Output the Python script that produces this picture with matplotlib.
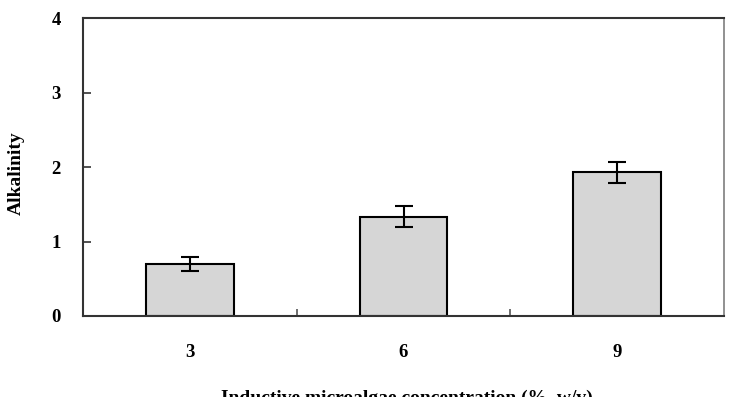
import matplotlib
matplotlib.use("Agg")
import matplotlib.pyplot as plt
import numpy as np

categories = ["3", "6", "9"]
alkalinity = [0.70, 1.33, 1.93]
errors = [0.09, 0.14, 0.14]
yticks = [0, 1, 2, 3, 4]
xlabel = "Inductive microalgae concentration (%, w/v)"
ylabel = "Alkalinity"

plt.rcParams["font.family"] = ["Liberation Serif", "DejaVu Serif"]
plt.rcParams["font.weight"] = "bold"

fig = plt.figure(figsize=(7.29, 3.97), dpi=100)
ax = fig.add_axes([83/729, (397-316)/397, (724-83)/729, (316-18)/397])

x = np.arange(len(categories))
ax.bar(x, alkalinity, width=0.41, color="#d6d6d6", edgecolor="black", linewidth=1.5, zorder=2)
ax.errorbar(x, alkalinity, yerr=errors, fmt="none", ecolor="black", elinewidth=1.5,
            capsize=6.5, capthick=1.5, zorder=3)

ax.set_xlim(-0.5, len(categories) - 0.5)
ax.set_ylim(0, 4)
ax.set_yticks(yticks)
ax.set_yticklabels([str(t) for t in yticks], fontsize=13.5, fontweight="bold")
ax.set_xticks(x)
ax.set_xticklabels(categories, fontsize=13.5, fontweight="bold")
ax.set_xticks(x[:-1] + 0.5, minor=True)
ax.tick_params(axis="x", which="major", length=0, pad=20)
ax.tick_params(axis="x", which="minor", direction="in", length=5, width=1.2, color="#555555")
ax.tick_params(axis="y", direction="in", length=6, width=1.2, color="#333333", pad=16)

for side in ["left", "top", "bottom"]:
    ax.spines[side].set_color("#333333")
    ax.spines[side].set_linewidth(1.5)
ax.spines["right"].set_color("#888888")
ax.spines["right"].set_linewidth(1.3)

fig.text(16/729, (397-173)/397, ylabel, rotation=90, ha="center", va="center",
         fontsize=14, fontweight="bold")
fig.text(407/729, -6/397, xlabel, ha="center", va="baseline", fontsize=14, fontweight="bold")

fig.savefig("out.png", dpi=100)
